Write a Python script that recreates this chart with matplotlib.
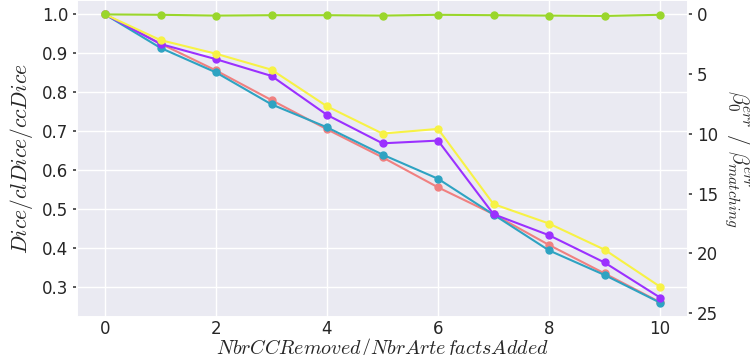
import numpy as np
import matplotlib.pyplot as plt
import seaborn as sns

sns.set_theme(style="darkgrid")
plt.rcParams['mathtext.fontset'] = 'cm'

n_changed = list(range(11))

dice = [1.0, 0.925, 0.856, 0.780, 0.705, 0.633, 0.556, 0.487, 0.408, 0.335, 0.261]
cl_dice = [1.0, 0.914, 0.851, 0.769, 0.710, 0.640, 0.578, 0.486, 0.394, 0.331, 0.260]
cc_dice = [1.0, 0.924, 0.885, 0.842, 0.742, 0.669, 0.676, 0.487, 0.433, 0.363, 0.273]
cc_dice_w = [1.0, 0.934, 0.899, 0.858, 0.764, 0.694, 0.706, 0.513, 0.463, 0.396, 0.301]
betti = [1.0, 0.999, 0.997, 0.998, 0.998, 0.997, 0.999, 0.998, 0.997, 0.996, 0.999]

# scale between the Dice axis and the inverted Betti error axis
err_scale = 32.6

fig, ax = plt.subplots(figsize=(7.5, 3.55), dpi=100)
fig.subplots_adjust(left=0.103, right=0.917, bottom=0.107, top=1.0)

kw = dict(marker='o', markersize=5, linewidth=1.5)
ax.plot(n_changed, dice, color='#f08080', **kw)
ax.plot(n_changed, cl_dice, color='#2ea3c2', **kw)
ax.plot(n_changed, cc_dice, color='#9b30ff', **kw)
ax.plot(n_changed, cc_dice_w, color='#f7f245', **kw)
ax.plot(n_changed, betti, color='#9ad62c', **kw)

ax.set_xlim(-0.5, 10.5)
ax.set_ylim(0.223, 1.037)
ax.set_xticks([0, 2, 4, 6, 8, 10])
ax.set_yticks([0.3, 0.4, 0.5, 0.6, 0.7, 0.8, 0.9, 1.0])
ax.tick_params(axis='y', labelsize=12, length=3, color='#444444', left=True)
ax.tick_params(axis='x', labelsize=12, pad=-4)
ax.set_xlabel(r'$NbrCCRemoved / NbrArtefactsAdded$', fontsize=14.5)
ax.xaxis.set_label_coords(0.5, -0.061)
ax.set_ylabel(r'$Dice / clDice / ccDice$', fontsize=15.5, labelpad=5)

ax2 = ax.twinx()
lo, hi = ax.get_ylim()
ax2.set_ylim((1 - lo) * err_scale, (1 - hi) * err_scale)
ax2.set_yticks([0, 5, 10, 15, 20, 25])
ax2.grid(False)
ax2.tick_params(labelsize=12, length=3, color='#444444', right=True)
ax2.set_ylabel(r'$\beta_0^{err}\ /\ \beta_{matching}^{err}$', fontsize=15.5,
               rotation=270, labelpad=24)

fig.savefig('out.png')
